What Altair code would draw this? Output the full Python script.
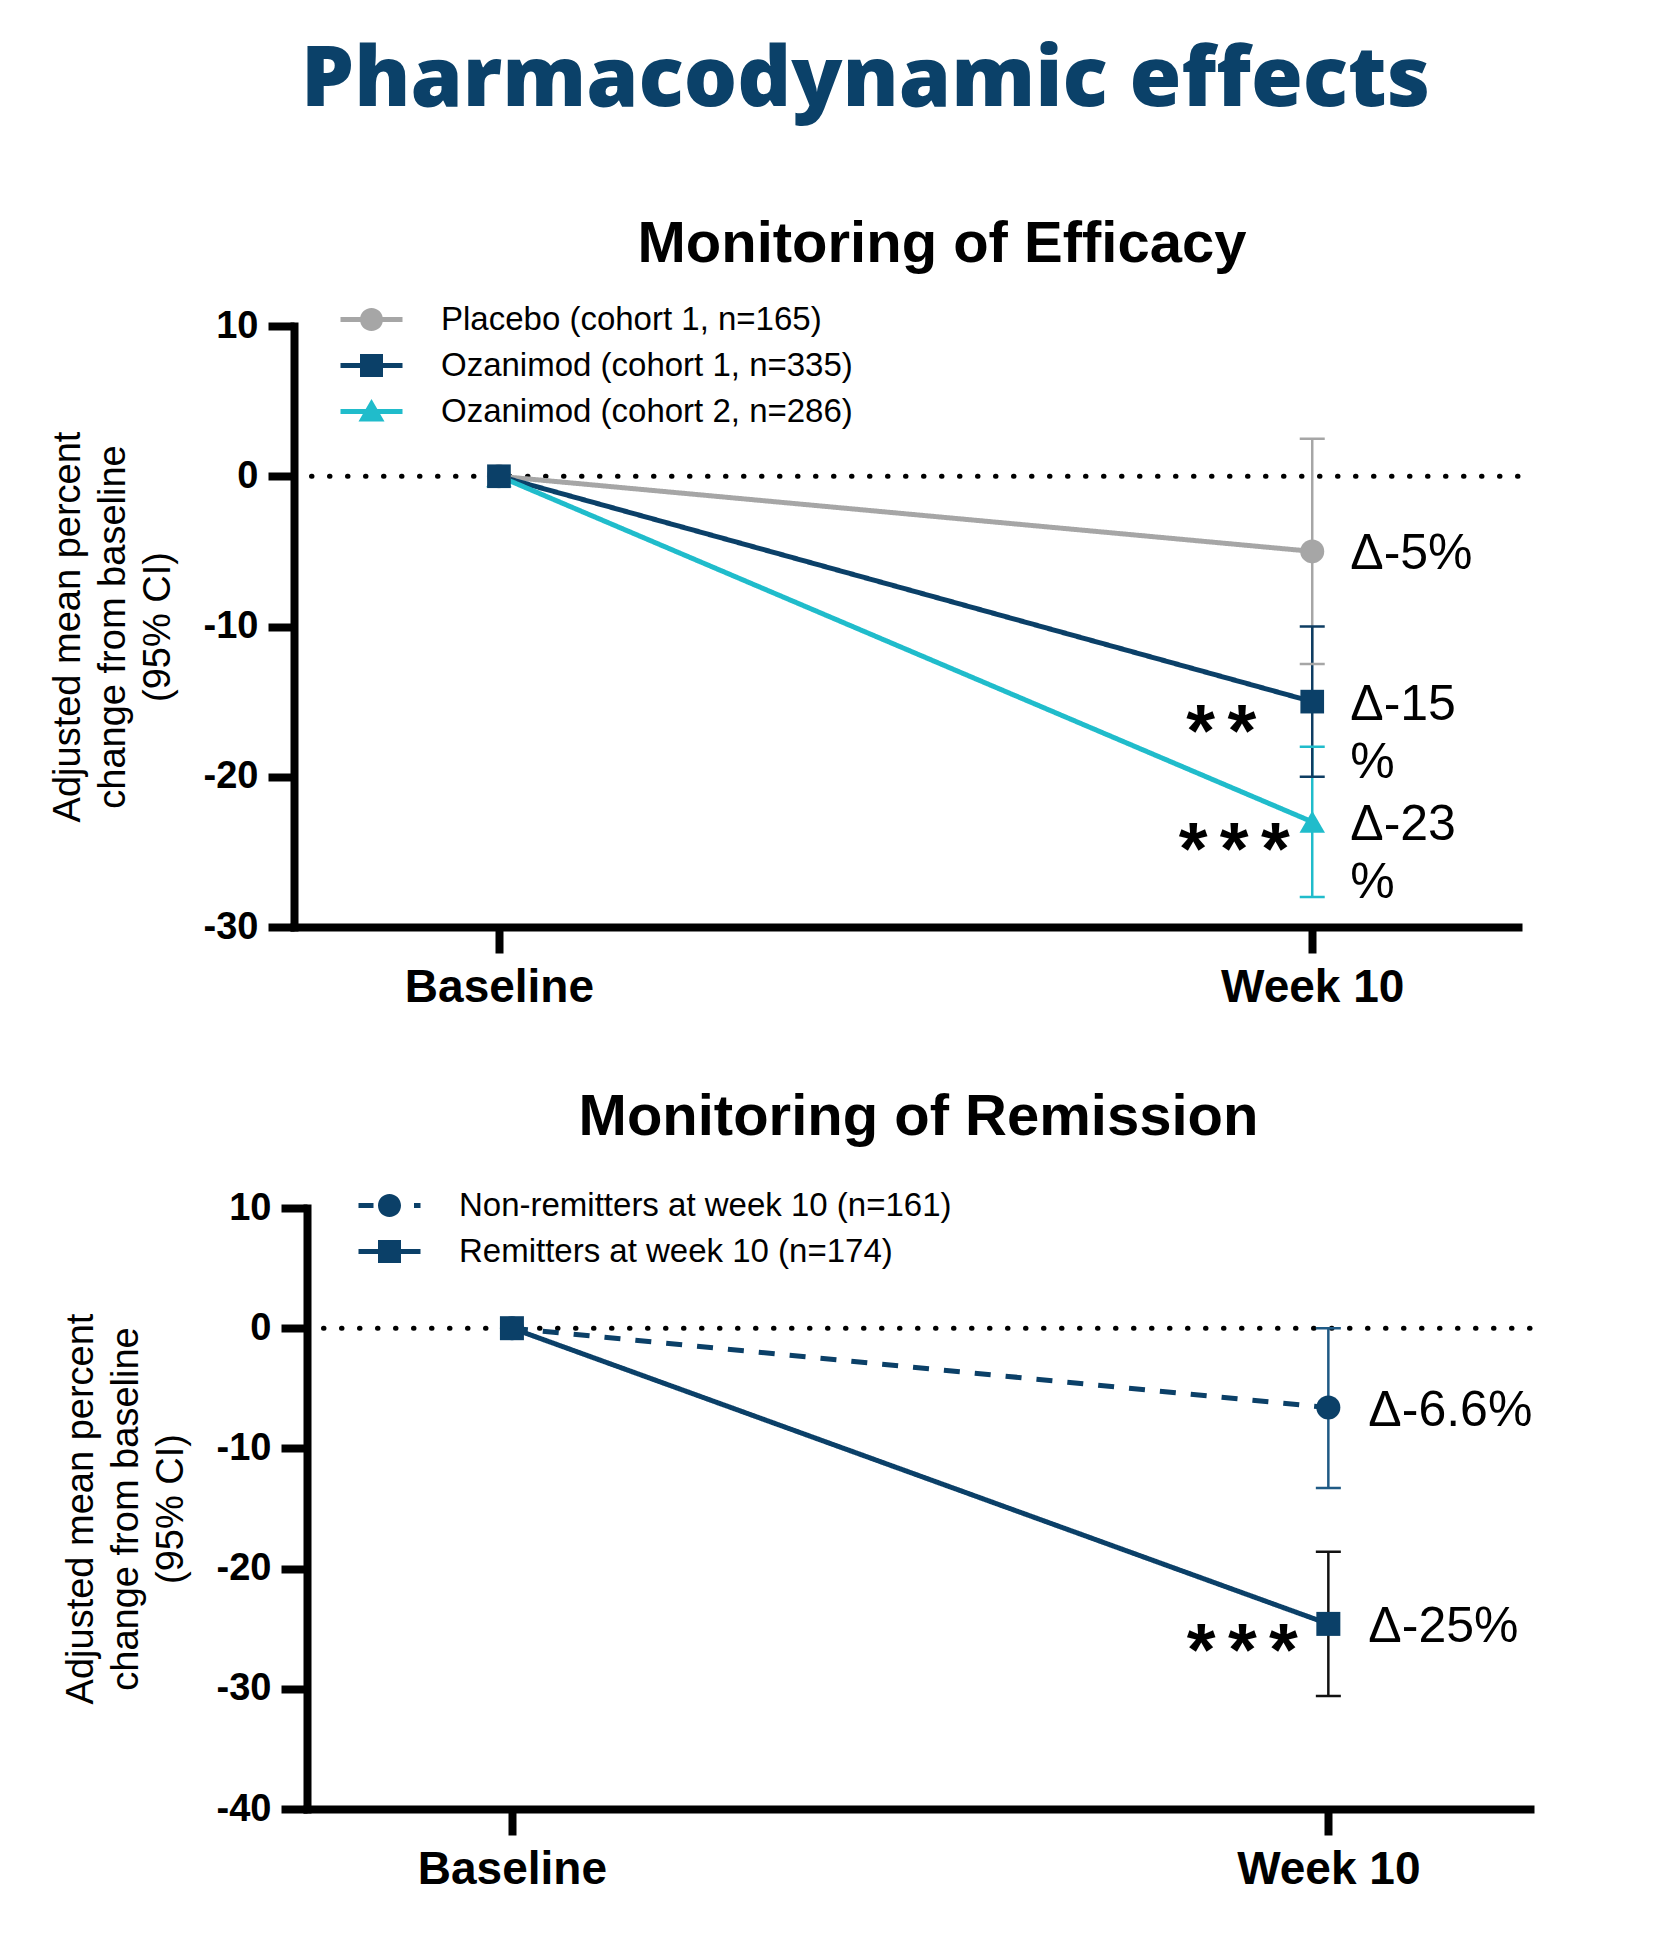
import altair as alt
import pandas as pd

# ---------------- data ----------------
weeks = [0, 10]
week_labels = ["Baseline", "Week 10"]

eff_yticks = [10, 0, -10, -20, -30]
eff_series = ["Placebo (cohort 1, n=165)", "Ozanimod (cohort 1, n=335)", "Ozanimod (cohort 2, n=286)"]
eff_baseline = [0, 0, 0]
eff_week10 = [-5, -15, -23]
eff_ci_low = [-12.5, -20, -28]
eff_ci_high = [2.5, -10, -18]
eff_delta = ["Δ-5%", "Δ-15\n%", "Δ-23\n%"]
eff_stars = ["", "*\u2006*", "*\u2006*\u2006*"]

rem_yticks = [10, 0, -10, -20, -30, -40]
rem_series = ["Non-remitters at week 10 (n=161)", "Remitters at week 10 (n=174)"]
rem_baseline = [0, 0]
rem_week10 = [-6.6, -24.6]
rem_ci_low = [-13.3, -30.6]
rem_ci_high = [0, -18.6]
rem_delta = ["Δ-6.6%", "Δ-25%"]
rem_stars = ["", "*\u2006*\u2006*"]

y_title = ["Adjusted mean percent", "change from baseline", "(95% CI)"]

# ---------------- styles ----------------
FONT = "Liberation Sans"
TITLE_BLUE = "#0b4169"
NAVY = "#0b4068"
GRAY = "#a6a6a6"
CYAN = "#20bccb"
eff_colors = [GRAY, NAVY, CYAN]
eff_ci_colors = [GRAY, "#0e3d62", CYAN]
eff_shapes = ["circle", "square", "triangle-up"]
eff_sizes = [576, 560, 650]
rem_colors = [NAVY, NAVY]
rem_ci_colors = ["#1f5a85", "#111111"]
rem_shapes = ["circle", "square"]
rem_sizes = [576, 576]

BAR = "M-3.1,-0.24H3.1V0.24H-3.1Z"
CIRC = "M1.15,0A1.15,1.15,0,1,1,-1.15,0A1.15,1.15,0,1,1,1.15,0Z"
SQR = "M-1.15,-1.15H1.15V1.15H-1.15Z"
TRI = "M0,-1.25L1.3,1.0H-1.3Z"
eff_paths = [BAR + CIRC, BAR + SQR, BAR + TRI]
rem_paths = ["M-3.1,-0.24H-1.6V0.24H-3.1Z" + CIRC + "M2.45,-0.24H3.1V0.24H2.45Z", BAR + SQR]

label_expr = " : ".join(
    [f"datum.value == {w} ? '{l}'" for w, l in zip(weeks[:-1], week_labels[:-1])] + [f"'{week_labels[-1]}'"]
)


def x_enc(domain):
    return alt.X(
        "week:Q",
        scale=alt.Scale(domain=domain, nice=False, zero=False),
        axis=alt.Axis(values=weeks, labelExpr=label_expr, title=None, labelFontSize=46,
                      labelFontWeight="bold", labelPadding=12, tickSize=26, labelLimit=0,
                      labelFlush=False, labelOverlap=False),
    )


def y_enc(field, domain, ticks):
    return alt.Y(
        field, type="quantitative",
        scale=alt.Scale(domain=domain, nice=False, zero=False),
        axis=alt.Axis(values=ticks, labelExpr="'' + datum.value", title=y_title, titleX=-207,
                      titleFont=FONT, titleFontSize=38, titleFontWeight="normal",
                      titleLineHeight=45, labelFontSize=38, labelFontWeight="bold",
                      labelPadding=10, tickSize=26, labelLimit=0),
    )


def legend(x, y):
    return alt.Legend(orient="none", legendX=x, legendY=y, title=None, labelFont=FONT,
                      labelFontSize=33, labelColor="black", symbolSize=400, symbolStrokeWidth=0,
                      symbolOpacity=1, labelOffset=53, rowPadding=12, padding=0, labelLimit=0)


def draw_order_points(n):
    # the square series sits on top at baseline
    return [0, 2, 1] if n == 3 else [0, 1]


def panel(series, colors, ci_colors, shapes, sizes, paths, base, w10, lo, hi, delta, stars,
          xdom, ydom, yticks, draw_order, dashed, star_offsets, leg_xy, delta_dx):
    X = x_enc(xdom)
    lines = pd.DataFrame([
        {"series": s, "week": w, "value": v, "color": c, "i": i}
        for i, (s, c, b, e) in enumerate(zip(series, colors, base, w10))
        for w, v in zip(weeks, [b, e])
    ])
    w10df = pd.DataFrame({"series": series, "week": weeks[1], "value": w10, "lo": lo, "hi": hi,
                          "color": colors, "cicolor": ci_colors, "delta": delta, "stars": stars,
                          "i": list(range(len(series)))})
    rules_df = w10df.iloc[draw_order]
    caps = pd.DataFrame({"week": [weeks[1]] * (2 * len(series)), "value": lo + hi,
                         "cicolor": ci_colors + ci_colors})
    zero = pd.DataFrame({"value": [0]})

    layers = []
    layers.append(alt.Chart(zero).mark_rule(color="black", strokeWidth=5, strokeDash=[0.5, 17.5],
                                            strokeCap="round").encode(y=y_enc("value", ydom, yticks)))
    layers.append(alt.Chart(rules_df).mark_rule(strokeWidth=2.5).encode(
        x=X, y=y_enc("lo", ydom, yticks), y2="hi", stroke=alt.Stroke("cicolor:N", scale=None)))
    layers.append(alt.Chart(caps).mark_tick(orient="horizontal", size=25, thickness=2.5, opacity=1).encode(
        x=X, y=y_enc("value", ydom, yticks), fill=alt.Fill("cicolor:N", scale=None)))
    for i in range(len(series)):
        dash = [16, 15] if dashed[i] else [1, 0]
        layers.append(alt.Chart(lines).transform_filter(alt.datum.i == i).mark_line(
            strokeWidth=5, color=colors[i], strokeDash=dash).encode(x=X, y=y_enc("value", ydom, yticks)))
    for i in draw_order_points(len(series)):
        layers.append(alt.Chart(lines).transform_filter(alt.datum.i == i).mark_point(
            filled=True, opacity=1, shape=shapes[i], size=sizes[i], color=colors[i], strokeWidth=0
        ).encode(x=X, y=y_enc("value", ydom, yticks)))
    leg = legend(*leg_xy)
    layers.append(alt.Chart(w10df).mark_point(filled=True, opacity=0).encode(
        x=X, y=y_enc("value", ydom, yticks),
        color=alt.Color("series:N", scale=alt.Scale(domain=series, range=colors), legend=leg),
        shape=alt.Shape("series:N", scale=alt.Scale(domain=series, range=paths), legend=leg)))
    layers.append(alt.Chart(w10df).mark_text(align="left", baseline="alphabetic", dx=delta_dx, dy=18,
                                             fontSize=50, font=FONT, color="black", lineBreak="\n",
                                             lineHeight=58).encode(
        x=X, y=y_enc("value", ydom, yticks), text="delta:N"))
    for i, (ddx, ddy) in star_offsets.items():
        layers.append(alt.Chart(w10df).transform_filter(alt.datum.i == i).mark_text(
            align="center", baseline="alphabetic", dx=ddx, dy=ddy, fontSize=74, font=FONT,
            fontWeight="bold", color="black").encode(
            x=X, y=y_enc("value", ydom, yticks), text="stars:N"))
    return alt.layer(*layers)


top = panel(eff_series, eff_colors, eff_ci_colors, eff_shapes, eff_sizes, eff_paths,
            eff_baseline, eff_week10, eff_ci_low, eff_ci_high, eff_delta, eff_stars,
            [-2.52, 12.53], [-30, 10], eff_yticks, [0, 2, 1], [False, False, False],
            {1: (-91, 54), 2: (-78, 52)}, (61, -23), 38).properties(
    width=1224, height=601,
    title=alt.TitleParams("Monitoring of Efficacy", font=FONT, fontSize=58, fontWeight="bold",
                          color="black", anchor="middle", dx=36, offset=29))

bottom = panel(rem_series, rem_colors, rem_ci_colors, rem_shapes, rem_sizes, rem_paths,
               rem_baseline, rem_week10, rem_ci_low, rem_ci_high, rem_delta, rem_stars,
               [-2.51, 12.47], [-40, 10], rem_yticks, [0, 1], [True, False],
               {1: (-86, 51)}, (66, -19), 40).properties(
    width=1223, height=601,
    title=alt.TitleParams("Monitoring of Remission", font=FONT, fontSize=58, fontWeight="bold",
                          color="black", anchor="middle", offset=42))


def spacer(w):
    return alt.Chart(pd.DataFrame({"v": [0]})).mark_point(opacity=0).properties(width=w, height=1)


top_row = alt.hconcat(spacer(1), top, spacing=0).resolve_scale(color="independent", shape="independent")
bottom_row = alt.hconcat(spacer(17), bottom, spacing=0).resolve_scale(color="independent", shape="independent")

chart = alt.concat(top_row, bottom_row, columns=1, align="none", spacing=79).properties(
    title=alt.TitleParams("Pharmacodynamic effects", font="Open Sans", fontSize=84, fontWeight=800,
                          color=TITLE_BLUE, anchor="middle", dx=78, offset=92),
    padding={"left": 34, "top": 31, "right": 5, "bottom": 5},
).resolve_scale(color="independent", shape="independent").resolve_legend(
    color="independent", shape="independent"
).configure_view(stroke=None).configure_axis(
    domainColor="black", domainWidth=8, domainCap="square", tickColor="black", tickWidth=8,
    labelColor="black", labelFont=FONT, titleColor="black", grid=False,
)

chart.save("out.html", embed_options={"renderer": "svg", "actions": False})
